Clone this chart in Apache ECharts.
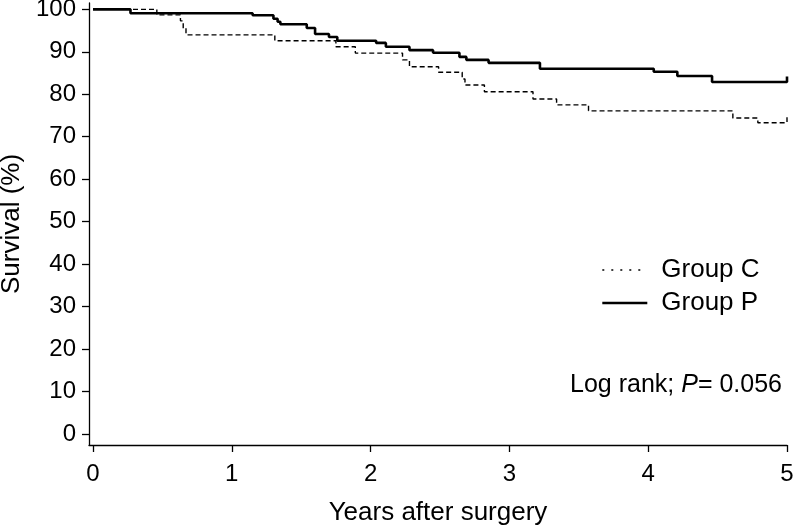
<!DOCTYPE html>
<html>
<head>
<meta charset="utf-8">
<script src="https://cdn.jsdelivr.net/npm/echarts@6/dist/echarts.min.js"></script>
<style>
html,body{margin:0;padding:0;background:#fff;}
#main{width:799px;height:528px;}
</style>
</head>
<body>
<div id="main"></div>
<script>
// Data (years after surgery, survival %)
var groupCTimes = [0, 0.46, 0.63, 0.65, 0.67, 1.31, 1.75, 1.89, 2.23, 2.28, 2.49, 2.66, 2.68, 2.82, 3.17, 3.34, 3.57, 4.61, 4.79, 5, 5];
var groupCSurv  = [100, 98.7, 97.3, 95.6, 94.0, 92.6, 91.2, 89.7, 88.1, 86.5, 85.2, 83.6, 82.2, 80.6, 78.9, 77.5, 76.1, 74.4, 73.3, 73.3, 74.6];
var groupPTimes = [0, 0.27, 1.15, 1.30, 1.33, 1.35, 1.54, 1.60, 1.70, 1.76, 2.04, 2.11, 2.28, 2.45, 2.64, 2.69, 2.85, 3.22, 4.04, 4.21, 4.46, 5, 5];
var groupPSurv  = [100, 99.1, 98.6, 97.8, 97.1, 96.5, 95.6, 94.2, 93.5, 92.6, 92.1, 91.2, 90.4, 89.8, 88.8, 88.1, 87.4, 86.0, 85.3, 84.3, 82.9, 82.9, 84.2];
var xTicks = [0, 1, 2, 3, 4, 5];
var yTicks = [0, 10, 20, 30, 40, 50, 60, 70, 80, 90, 100];
var seriesNames = ['Group C', 'Group P'];
var xTitle = 'Years after surgery';
var yTitle = 'Survival (%)';

function pairs(t, v) { return t.map(function (x, i) { return [x, v[i]]; }); }

var FONT = '"Liberation Sans", Arial, Helvetica, sans-serif';
var chart = echarts.init(document.getElementById('main'));
chart.setOption({
  backgroundColor: '#fff',
  animation: false,
  grid: { left: 89, right: 12, top: 3, bottom: 83, containLabel: false, outerBoundsMode: 'none' },
  xAxis: {
    type: 'value', min: -0.0288, max: 5,
    name: xTitle, nameLocation: 'middle', nameGap: 55,
    nameTextStyle: { fontFamily: FONT, fontSize: 26, color: '#000' },
    axisLine: { show: true, onZero: false, lineStyle: { color: '#000', width: 1.3 } },
    axisTick: { show: true, length: 7, customValues: xTicks, lineStyle: { color: '#000', width: 1.3 } },
    axisLabel: { customValues: xTicks, margin: 17, fontFamily: FONT, fontSize: 24, color: '#000' },
    splitLine: { show: false }
  },
  yAxis: {
    type: 'value', min: -2.6, max: 101.5,
    name: yTitle, nameLocation: 'middle', nameGap: 52, nameRotate: 90,
    nameTextStyle: { fontFamily: FONT, fontSize: 26, color: '#000' },
    axisLine: { show: true, onZero: false, lineStyle: { color: '#000', width: 1.3 } },
    axisTick: { show: true, length: 7, customValues: yTicks, lineStyle: { color: '#000', width: 1.3 } },
    axisLabel: { customValues: yTicks, margin: 13, fontFamily: FONT, fontSize: 24, color: '#000' },
    splitLine: { show: false }
  },
  legend: {
    orient: 'vertical', left: 596, top: 252, itemWidth: 45, itemHeight: 25, itemGap: 7,
    textStyle: { fontFamily: FONT, fontSize: 26, color: '#000', padding: [0, 0, 0, 9] },
    itemStyle: { opacity: 0 },
    data: [
      { name: seriesNames[0], lineStyle: { type: [2, 7], width: 1.3, color: '#000' } },
      { name: seriesNames[1], lineStyle: { type: 'solid', width: 2.6, color: '#000' } }
    ]
  },
  title: {
    right: 12, top: 368,
    text: '{a|Log rank; }{b|P}{a|= 0.056}',
    textStyle: {
      fontWeight: 'normal',
      rich: {
        a: { fontFamily: FONT, fontSize: 25, color: '#000', fontWeight: 'normal' },
        b: { fontFamily: FONT, fontSize: 25, color: '#000', fontStyle: 'italic', fontWeight: 'normal' }
      }
    }
  },
  series: [
    {
      name: seriesNames[0], type: 'line', step: 'end', symbol: 'none',
      data: pairs(groupCTimes, groupCSurv),
      lineStyle: { color: '#000', width: 1.4, type: [5, 3] },
      itemStyle: { color: '#000' }
    },
    {
      name: seriesNames[1], type: 'line', step: 'end', symbol: 'none',
      data: pairs(groupPTimes, groupPSurv),
      lineStyle: { color: '#000', width: 2.6, type: 'solid' },
      itemStyle: { color: '#000' }
    }
  ]
});
</script>
</body>
</html>
